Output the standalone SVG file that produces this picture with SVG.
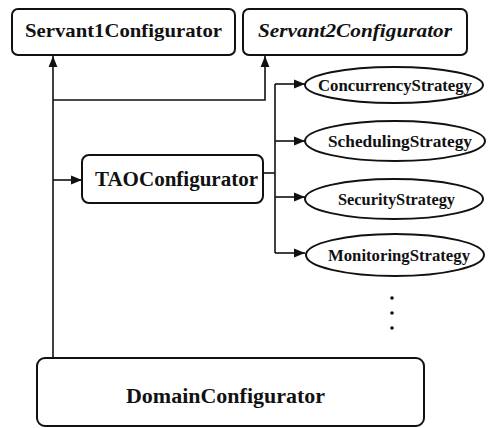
<svg xmlns="http://www.w3.org/2000/svg" width="490" height="428" viewBox="0 0 490 428">
<style>
.box{fill:#fff;stroke:#111;stroke-width:2}
.ell{fill:#fff;stroke:#111;stroke-width:2}
.ln{fill:none;stroke:#111;stroke-width:1.6}
.t{font-family:"Liberation Serif","Times New Roman",serif;font-weight:bold;fill:#111;text-anchor:middle}
</style>
<defs>
<marker id="ah" viewBox="0 0 10 10" refX="10" refY="5" markerWidth="11" markerHeight="11" markerUnits="userSpaceOnUse" orient="auto">
<path d="M0,1 L10,5 L0,9 Z" fill="#111"/>
</marker>
</defs>
<rect width="490" height="428" fill="#fff"/>
<g id="connectors">
<path class="ln" d="M53,358 V56" marker-end="url(#ah)"/>
<path class="ln" d="M53,100 H265 V56" marker-end="url(#ah)"/>
<path class="ln" d="M53,180 H82" marker-end="url(#ah)"/>
<path class="ln" d="M263,173 H275"/>
<path class="ln" d="M275,84 V253"/>
<path class="ln" d="M275,84 H305" marker-end="url(#ah)"/>
<path class="ln" d="M275,141 H305" marker-end="url(#ah)"/>
<path class="ln" d="M275,197 H305" marker-end="url(#ah)"/>
<path class="ln" d="M275,253 H305" marker-end="url(#ah)"/>
</g>
<g id="servant1">
<rect class="box" x="12" y="9" width="223" height="46" rx="6"/>
<text class="t" x="123.5" y="37" font-size="19" textLength="197" lengthAdjust="spacingAndGlyphs">Servant1Configurator</text>
</g>
<g id="servant2">
<rect class="box" x="243" y="9" width="224" height="46" rx="6"/>
<text class="t" x="355" y="37" font-size="19" font-style="italic" textLength="194" lengthAdjust="spacingAndGlyphs">Servant2Configurator</text>
</g>
<g id="tao">
<rect class="box" x="82" y="155" width="181" height="48" rx="7"/>
<text class="t" x="176.5" y="186" font-size="20" textLength="163" lengthAdjust="spacingAndGlyphs">TAOConfigurator</text>
</g>
<g id="concurrency">
<ellipse class="ell" cx="394" cy="85" rx="89" ry="18"/>
<text class="t" x="395" y="91" font-size="16" textLength="154" lengthAdjust="spacingAndGlyphs">ConcurrencyStrategy</text>
</g>
<g id="scheduling">
<ellipse class="ell" cx="395" cy="141" rx="90" ry="20"/>
<text class="t" x="400" y="147" font-size="16" textLength="144" lengthAdjust="spacingAndGlyphs">SchedulingStrategy</text>
</g>
<g id="security">
<ellipse class="ell" cx="394" cy="199" rx="89" ry="20"/>
<text class="t" x="396.5" y="205" font-size="16" textLength="117" lengthAdjust="spacingAndGlyphs">SecurityStrategy</text>
</g>
<g id="monitoring">
<ellipse class="ell" cx="395" cy="255" rx="89" ry="21"/>
<text class="t" x="399" y="261" font-size="16" textLength="142" lengthAdjust="spacingAndGlyphs">MonitoringStrategy</text>
</g>
<g id="ellipsis" fill="#111">
<circle cx="392" cy="298" r="1.8"/>
<circle cx="392" cy="313" r="1.8"/>
<circle cx="392" cy="328" r="1.8"/>
</g>
<g id="domain">
<rect class="box" x="37" y="358" width="387" height="68" rx="8"/>
<text class="t" x="225.5" y="403" font-size="20" textLength="199" lengthAdjust="spacingAndGlyphs">DomainConfigurator</text>
</g>
</svg>
